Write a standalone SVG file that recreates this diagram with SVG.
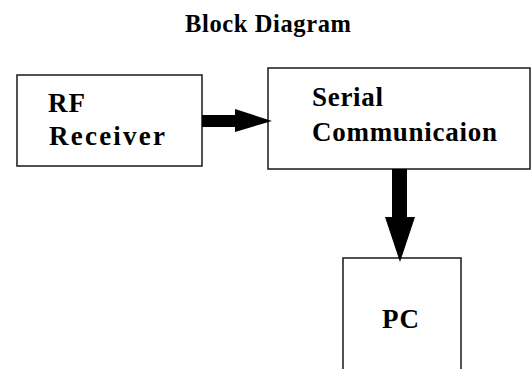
<svg xmlns="http://www.w3.org/2000/svg" width="532" height="369" viewBox="0 0 532 369">
  <style>
    .box { fill: #ffffff; stroke: #262626; stroke-width: 1.6; }
    text { font-family: 'Liberation Serif', 'Times New Roman', serif; font-weight: bold; fill: #000000; }
    .label { font-size: 27px; }
    .title { font-size: 24.5px; }
    .arrow { fill: #000000; stroke: none; }
  </style>
  <rect width="532" height="369" fill="#ffffff"/>

  <text class="title" x="185" y="32" textLength="166" lengthAdjust="spacing">Block Diagram</text>

  <g id="rf-receiver">
    <rect class="box" x="17" y="75" width="185" height="91"/>
    <text class="label" x="48" y="112" textLength="37" lengthAdjust="spacing">RF</text>
    <text class="label" x="49" y="145" textLength="116" lengthAdjust="spacing">Receiver</text>
  </g>

  <g id="serial-communication">
    <rect class="box" x="268" y="68" width="262" height="101"/>
    <text class="label" x="312" y="106" textLength="71" lengthAdjust="spacing">Serial</text>
    <text class="label" x="312" y="141" textLength="185" lengthAdjust="spacing">Communicaion</text>
  </g>

  <g id="pc">
    <rect class="box" x="343" y="258" width="118" height="130"/>
    <text class="label" x="382" y="328" textLength="37" lengthAdjust="spacing">PC</text>
  </g>

  <g id="connectors">
    <!-- RF Receiver to Serial Communication -->
    <polygon class="arrow" points="202,115 235,115 235,109 272,121 235,132 235,127 202,127"/>
    <!-- Serial Communication to PC -->
    <polygon class="arrow" points="392,169 407,169 407,217 415,217 400,262 385,217 392,217"/>
  </g>
</svg>
